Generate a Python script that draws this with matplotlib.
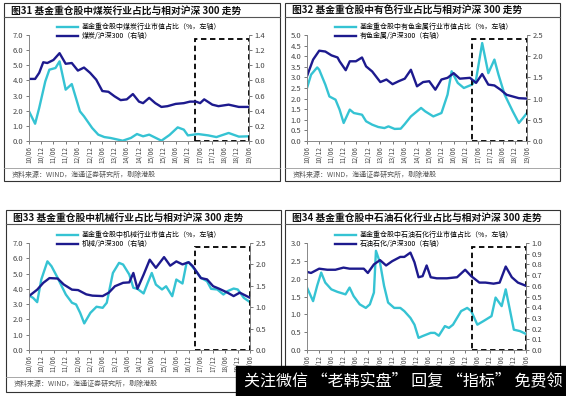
import matplotlib
matplotlib.use('Agg')
import matplotlib.pyplot as plt
from matplotlib.patches import Rectangle
from matplotlib.lines import Line2D

plt.rcParams['font.family'] = ['Noto Sans CJK SC', 'DejaVu Sans']

W, H = 566, 396
CYAN = '#35C3D3'
NAVY = '#1D1A8E'

tick_labels = ['10/06', '10/12', '11/06', '11/12', '12/06', '12/12', '13/06', '13/12',
               '14/06', '14/12', '15/06', '15/12', '16/06', '16/12', '17/06', '17/12',
               '18/06', '18/12', '19/06']
source = '资料来源：WIND，海通证券研究所，剔除港股'

# 图31 煤炭 (months since 2010/06)
coal_share_m = [0, 3, 5, 8, 10, 13, 15, 18, 21, 25, 27, 31, 34, 37, 40, 46, 50, 53, 56, 59,
                65, 69, 73, 76, 78, 83, 88, 92, 98, 103, 108]
coal_share = [1.96, 1.14, 2.18, 3.94, 4.71, 4.82, 5.26, 3.39, 3.76, 1.96, 1.63, 0.86, 0.42,
              0.26, 0.2, 0.02, 0.2, 0.46, 0.31, 0.42, 0.02, 0.4, 0.9, 0.75, 0.37, 0.46, 0.37,
              0.26, 0.53, 0.29, 0.31]
coal_rel_m = [0, 3, 5, 7, 9, 12, 15, 18, 21, 24, 27, 30, 33, 36, 39, 42, 45, 48, 51, 54, 56,
              59, 62, 65, 68, 72, 76, 79, 82, 84, 86, 90, 93, 98, 103, 108]
coal_rel = [0.82, 0.82, 0.9, 1.04, 1.03, 1.07, 1.16, 1.02, 1.03, 0.93, 0.97, 0.9, 0.81, 0.66,
            0.65, 0.59, 0.54, 0.55, 0.62, 0.52, 0.5, 0.57, 0.5, 0.45, 0.46, 0.49, 0.5, 0.52,
            0.52, 0.5, 0.55, 0.48, 0.46, 0.48, 0.45, 0.45]

# 图32 有色
metal_share_m = [0, 2, 5, 6, 9, 11, 14, 16, 18, 21, 23, 27, 29, 32, 35, 38, 40, 43, 46, 48,
                 51, 54, 56, 58, 62, 66, 69, 71, 74, 77, 81, 83, 86, 89, 92, 94, 97, 101, 104,
                 106, 108]
metal_share = [2.5, 3.13, 3.47, 3.36, 2.66, 2.1, 1.95, 1.48, 0.85, 1.48, 1.32, 1.24, 0.93,
               0.77, 0.66, 0.61, 0.69, 0.57, 0.58, 0.8, 1.16, 1.4, 1.56, 1.4, 1.16, 1.32, 2.19,
               3.29, 2.74, 2.5, 2.66, 2.9, 4.62, 3.2, 3.84, 3.13, 2.19, 1.4, 0.85, 1.08, 1.32]
metal_rel_m = [0, 3, 6, 9, 12, 15, 16, 19, 21, 24, 27, 29, 32, 36, 39, 42, 45, 48, 51, 54,
               57, 60, 63, 66, 69, 72, 75, 80, 83, 86, 89, 92, 95, 98, 101, 104, 108]
metal_rel = [1.53, 1.92, 2.13, 2.11, 2.02, 1.97, 1.88, 1.67, 1.88, 1.88, 1.97, 1.76, 1.64,
             1.39, 1.45, 1.34, 1.41, 1.47, 1.68, 1.29, 1.39, 1.41, 1.21, 1.45, 1.49, 1.6, 1.47,
             1.49, 1.37, 1.58, 1.33, 1.31, 1.21, 1.09, 1.05, 1.01, 1.0]

# 图33 机械
mach_share_m = [0, 2, 4, 6, 9, 11, 14, 16, 18, 21, 23, 25, 27, 30, 33, 36, 38, 41, 44, 46,
                49, 51, 53, 56, 58, 60, 62, 65, 67, 70, 72, 75, 77, 78, 81, 84, 87, 89, 92, 95,
                97, 100, 102, 105, 108]
mach_share = [3.57, 3.41, 3.13, 4.61, 5.8, 5.48, 4.72, 4.17, 3.63, 3.09, 2.98, 2.43, 1.74,
              2.43, 2.83, 2.76, 3.09, 5.04, 5.7, 5.59, 4.94, 4.07, 4.0, 3.7, 4.39, 5.04, 4.28,
              3.96, 4.17, 3.52, 4.61, 4.35, 5.7, 5.74, 5.26, 4.72, 4.5, 4.0, 3.96, 3.63, 3.85,
              4.02, 3.96, 3.41, 3.13]
mach_rel_m = [0, 4, 7, 10, 14, 17, 21, 24, 28, 31, 36, 39, 42, 46, 49, 51, 53, 56, 59, 62,
              66, 69, 72, 75, 78, 80, 84, 87, 90, 93, 97, 100, 103, 108]
mach_rel = [1.26, 1.41, 1.57, 1.68, 1.67, 1.53, 1.41, 1.4, 1.3, 1.27, 1.26, 1.34, 1.49, 1.57,
            1.58, 1.8, 1.43, 1.76, 2.11, 1.92, 2.17, 1.97, 2.07, 2.0, 2.05, 1.96, 1.68, 1.65,
            1.49, 1.43, 1.34, 1.26, 1.34, 1.22]

# 图34 石油石化
oil_share_m = [0, 3, 5, 7, 9, 12, 15, 19, 21, 23, 26, 29, 31, 33, 34, 36, 38, 40, 43, 46,
               48, 51, 53, 55, 57, 61, 63, 65, 68, 70, 72, 76, 79, 81, 84, 87, 91, 93, 96, 98,
               100, 102, 105, 108]
oil_share = [1.75, 1.37, 1.8, 2.17, 1.89, 1.7, 1.63, 1.56, 1.75, 1.51, 1.28, 1.18, 1.28,
             1.61, 2.78, 2.45, 1.8, 1.33, 1.18, 1.18, 1.09, 0.9, 0.71, 0.34, 0.39, 0.48, 0.48,
             0.4, 0.67, 0.62, 0.71, 1.09, 1.18, 1.09, 0.71, 0.81, 0.95, 1.47, 1.23, 1.7, 1.14,
             0.57, 0.53, 0.45]
oil_rel_m = [0, 2, 6, 10, 14, 18, 21, 25, 28, 30, 33, 36, 39, 42, 46, 48, 51, 53, 55, 57, 59,
             61, 64, 69, 74, 78, 81, 85, 88, 92, 95, 98, 101, 104, 108]
oil_rel = [0.73, 0.72, 0.76, 0.75, 0.75, 0.77, 0.76, 0.76, 0.76, 0.72, 0.8, 0.84, 0.79, 0.83,
           0.87, 0.87, 0.91, 0.82, 0.68, 0.69, 0.79, 0.68, 0.67, 0.67, 0.68, 0.75, 0.69, 0.63,
           0.63, 0.62, 0.63, 0.78, 0.68, 0.63, 0.6]


def fx(x):
    return x / W


def fy(y):
    return 1 - y / H


fig = plt.figure(figsize=(W / 100, H / 100), dpi=100)
fig.patch.set_facecolor('white')


def panel(box, axbox, title, labels, sm, sv, rm, rv, lmax, lstep, rmax, rstep, hl, hl_top,
          show_source=True):
    l, t, r, b = box
    fig.add_artist(Rectangle((fx(l), fy(b)), (r - l) / W, (b - t) / H, transform=fig.transFigure,
                             fill=False, lw=0.8, ec='#333333'))
    fig.text(fx(l + 7), fy(t + 8), title, fontsize=7, fontweight='bold', va='center', color='#111111')
    fig.add_artist(Line2D([fx(l), fx(r)], [fy(t + 14)] * 2, lw=0.8, color='#555555'))

    al, at, ar, ab = axbox
    fig.add_artist(Line2D([fx(l), fx(r)], [fy(ab + 27)] * 2, lw=0.6, color='#999999'))
    # the source line of 图34 sits under the banner in the original
    if show_source:
        fig.text(fx(l + 8), fy(ab + 34), source, fontsize=5, color='#555555', va='center')

    ax = fig.add_axes([fx(al), fy(ab), (ar - al) / W, (ab - at) / H])
    ax2 = ax.twinx()
    l1, = ax.plot(sm, sv, color=CYAN, lw=1.7, label=labels[0])
    l2, = ax2.plot(rm, rv, color=NAVY, lw=1.7, label=labels[1])
    ax2.add_patch(Rectangle((hl, 0), 108 - hl, hl_top, fill=False, ls=(0, (3, 2)), lw=1.3,
                            ec='black', clip_on=False))

    ax.set_xlim(0, 108)
    ax.set_xticks(range(0, 109, 6))
    ax.set_xticklabels(tick_labels, rotation=90, fontsize=4.6, color='#444444')
    n = int(round(lmax / lstep))
    ax.set_ylim(0, lmax)
    ax.set_yticks([i * lstep for i in range(n + 1)])
    ax.set_yticklabels(['%.1f' % (i * lstep) for i in range(n + 1)])
    n = int(round(rmax / rstep))
    ax2.set_ylim(0, rmax)
    ax2.set_yticks([i * rstep for i in range(n + 1)])
    ax2.set_yticklabels(['%.1f' % (i * rstep) for i in range(n + 1)])
    for a in (ax, ax2):
        a.tick_params(labelsize=5.5, length=2, width=0.5, colors='#444444', pad=2)
        a.spines['top'].set_visible(False)
        for s in ('left', 'right', 'bottom'):
            a.spines[s].set_color('#888888')
            a.spines[s].set_linewidth(0.6)
    ax.tick_params(axis='x', labelsize=4.6, pad=1.5)

    fig.legend(handles=[l1, l2], loc='upper left', bbox_to_anchor=(fx(al + 28), fy(at - 12)),
               frameon=False, fontsize=5, handlelength=3, handletextpad=0.6, labelspacing=0.15,
               borderpad=0, borderaxespad=0)


panel((4, 3, 280, 181), (29, 35, 249, 141), '图31 基金重仓股中煤炭行业占比与相对沪深 300 走势',
      ['基金重仓股中煤炭行业市值占比（%，左轴）', '煤炭/沪深300（右轴）'],
      coal_share_m, coal_share, coal_rel_m, coal_rel, 7.0, 1.0, 1.4, 0.2, 81.5, 1.35)
panel((285, 3, 560, 181), (307, 35, 527, 141), '图32 基金重仓股中有色行业占比与相对沪深 300 走势',
      ['基金重仓股中有色金属行业市值占比（%，左轴）', '有色金属/沪深300（右轴）'],
      metal_share_m, metal_share, metal_rel_m, metal_rel, 5.0, 0.5, 2.5, 0.5, 81, 2.41)
panel((6, 210, 281, 392), (29, 243, 250, 350), '图33 基金重仓股中机械行业占比与相对沪深 300 走势',
      ['基金重仓股中机械行业市值占比（%，左轴）', '机械/沪深300（右轴）'],
      mach_share_m, mach_share, mach_rel_m, mach_rel, 7.0, 1.0, 2.5, 0.5, 81, 2.40)
panel((285, 210, 560, 395), (307, 243, 526, 350), '图34 基金重仓股中石油石化行业占比与相对沪深 300 走势',
      ['基金重仓股中石油石化行业市值占比（%，左轴）', '石油石化/沪深300（右轴）'],
      oil_share_m, oil_share, oil_rel_m, oil_rel, 3.0, 0.5, 1.0, 0.1, 81.5, 0.965,
      show_source=False)

# watermark banner
fig.add_artist(Rectangle((fx(236), 0), (W - 236) / W, 30 / H, transform=fig.transFigure,
                         color='black', zorder=10))
fig.text(fx(403), fy(381), '关注微信 “老韩实盘” 回复 “指标” 免费领', color='white', fontsize=11.5,
         ha='center', va='center', zorder=11)

fig.savefig('out.png', dpi=100)
